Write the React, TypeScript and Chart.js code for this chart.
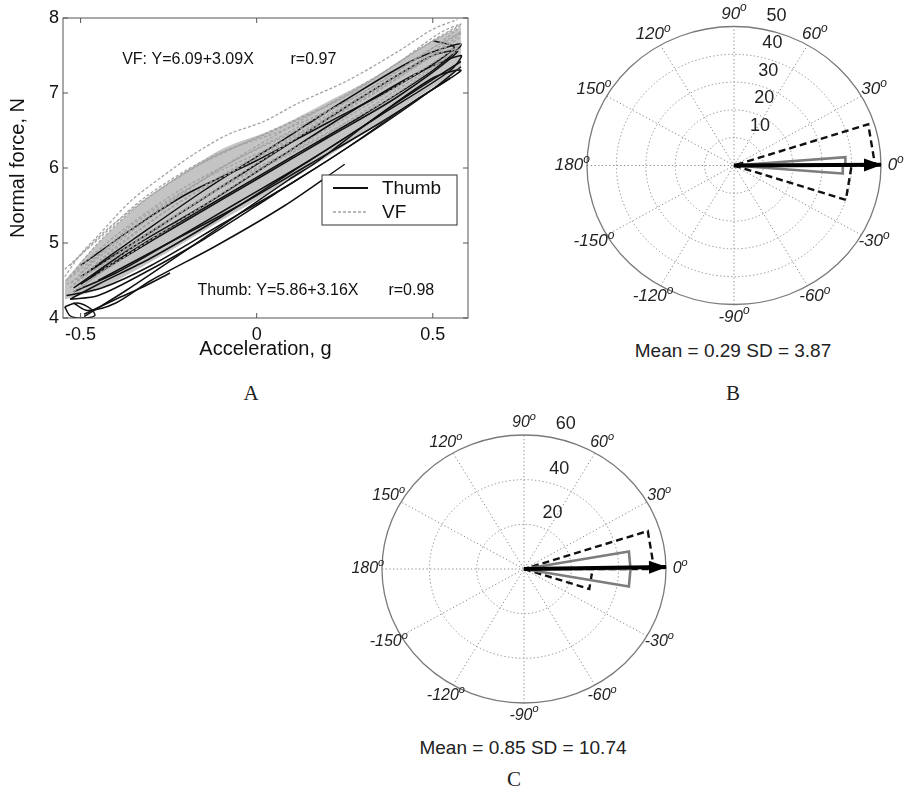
import React, { useEffect, useRef } from "react";
import { Chart, registerables } from "chart.js";

Chart.register(...registerables);

const SANS = "'Liberation Sans', Arial, Helvetica, sans-serif";
const SERIF = "'Liberation Serif', 'Times New Roman', serif";

// ---------------- Panel A data ----------------
const accelTicks = [-0.5, 0, 0.5];
const forceTicks = [4, 5, 6, 7, 8];
const vfFitText = "VF: Y=6.09+3.09X";
const vfRText = "r=0.97";
const thumbFitText = "Thumb: Y=5.86+3.16X";
const thumbRText = "r=0.98";

const thumbTrace1 = [[-0.49, 4.02], [-0.37, 4.37], [-0.18, 4.97], [0.09, 5.84], [0.17, 6.08], [0.36, 6.75], [0.58, 7.42]];
const thumbTrace2 = [[-0.49, 4.05], [-0.4, 4.25], [-0.32, 4.42], [-0.246, 4.6]];
const thumbTrace3 = [[-0.545, 4.15], [-0.53, 4.03], [-0.5, 4.0], [-0.46, 4.03], [-0.47, 4.12], [-0.51, 4.2], [-0.545, 4.15]];
const thumbTrace4 = [[-0.53, 4.25], [-0.45, 4.3], [-0.32, 4.6], [-0.15, 5.05], [0.05, 5.65], [0.25, 6.25], [0.45, 6.9], [0.58, 7.3], [0.5, 7.2], [0.3, 6.55], [0.1, 5.95], [-0.1, 5.35], [-0.3, 4.8], [-0.45, 4.45], [-0.53, 4.25]];
const thumbTrace5 = [[-0.52, 4.35], [-0.4, 4.6], [-0.25, 5.0], [-0.05, 5.55], [0.15, 6.1], [0.35, 6.7], [0.55, 7.3], [0.58, 7.5], [0.45, 7.25], [0.25, 6.7], [0.05, 6.1], [-0.15, 5.5], [-0.35, 4.95], [-0.52, 4.4]];
const thumbTrace6 = [[-0.5, 4.45], [-0.38, 4.8], [-0.2, 5.3], [0, 5.85], [0.2, 6.4], [0.4, 6.95], [0.57, 7.55], [0.5, 7.5], [0.3, 6.95], [0.1, 6.35], [-0.1, 5.75], [-0.3, 5.15], [-0.5, 4.55]];
const thumbTrace7 = [[-0.47, 4.55], [-0.3, 5.05], [-0.1, 5.6], [0.1, 6.15], [0.3, 6.7], [0.5, 7.3], [0.58, 7.65], [0.45, 7.45], [0.25, 6.9], [0.05, 6.3], [-0.15, 5.7], [-0.35, 5.05], [-0.47, 4.65]];
const thumbTrace8 = [[-0.54, 4.3], [-0.44, 4.4], [-0.3, 4.7], [-0.1, 5.25], [0.1, 5.8], [0.3, 6.4], [0.5, 7.05], [0.58, 7.35]];
const thumbTrace9 = [[-0.45, 4.5], [-0.25, 5.0], [-0.05, 5.5], [0.15, 6.05], [0.35, 6.6], [0.55, 7.2]];
const thumbTrace10 = [[-0.52, 4.2], [-0.48, 4.1], [-0.4, 4.2], [-0.3, 4.5], [-0.12, 4.95], [0.08, 5.5], [0.25, 6.05]];
const thumbTrace11 = [[-0.5, 4.7], [-0.35, 5.2], [-0.2, 5.65], [0, 6.1], [0.2, 6.6], [0.4, 7.1], [0.56, 7.6], [0.5, 7.7]];
const thumbTraces = [thumbTrace1, thumbTrace2, thumbTrace3, thumbTrace4, thumbTrace5, thumbTrace6, thumbTrace7, thumbTrace8, thumbTrace9, thumbTrace10, thumbTrace11];

const vfTrace1 = [[-0.545, 4.55], [-0.5, 4.85], [-0.45, 5.1], [-0.36, 5.55], [-0.27, 5.88], [-0.18, 6.18], [-0.08, 6.45], [0.02, 6.62], [0.12, 6.87], [0.26, 7.17], [0.4, 7.55], [0.5, 7.85], [0.57, 7.98]];
const vfTrace2 = [[-0.54, 4.5], [-0.46, 4.95], [-0.35, 5.45], [-0.2, 5.95], [-0.05, 6.3], [0.1, 6.62], [0.25, 6.95], [0.4, 7.4], [0.52, 7.8], [0.58, 7.92], [0.5, 7.7], [0.35, 7.25], [0.15, 6.7], [-0.05, 6.15], [-0.25, 5.55], [-0.42, 4.95], [-0.54, 4.5]];
const vfTrace3 = [[-0.53, 4.4], [-0.42, 4.85], [-0.28, 5.35], [-0.1, 5.9], [0.1, 6.4], [0.3, 6.9], [0.48, 7.45], [0.58, 7.8], [0.5, 7.6], [0.3, 7.0], [0.1, 6.5], [-0.1, 6.0], [-0.3, 5.35], [-0.45, 4.8], [-0.53, 4.45]];
const vfTrace4 = [[-0.52, 4.35], [-0.38, 4.8], [-0.2, 5.35], [0, 5.95], [0.2, 6.45], [0.4, 7.0], [0.57, 7.6], [0.48, 7.45], [0.28, 6.9], [0.08, 6.3], [-0.12, 5.7], [-0.32, 5.1], [-0.52, 4.45]];
const vfTrace5 = [[-0.545, 4.65], [-0.45, 5.05], [-0.32, 5.6], [-0.15, 6.1], [0.05, 6.5], [0.25, 6.95], [0.45, 7.55], [0.58, 7.9]];
const vfTrace6 = [[-0.5, 4.6], [-0.35, 5.25], [-0.15, 5.85], [0.05, 6.3], [0.25, 6.8], [0.45, 7.35], [0.58, 7.75]];
const vfTrace7 = [[-0.53, 4.7], [-0.42, 5.2], [-0.28, 5.7], [-0.1, 6.2], [0.1, 6.55], [0.3, 7.0], [0.5, 7.6], [0.57, 7.85]];
const vfTrace8 = [[-0.51, 4.5], [-0.4, 4.95], [-0.25, 5.45], [-0.05, 6.0], [0.15, 6.5], [0.35, 7.05], [0.55, 7.65]];
const vfTrace9 = [[-0.54, 4.45], [-0.44, 4.7], [-0.3, 5.15], [-0.1, 5.75], [0.1, 6.25], [0.3, 6.8], [0.5, 7.4], [0.58, 7.65]];
const vfTrace10 = [[-0.52, 4.6], [-0.4, 5.1], [-0.22, 5.7], [-0.02, 6.2], [0.2, 6.7], [0.42, 7.3], [0.58, 7.82]];
const vfTrace11 = [[-0.5, 4.4], [-0.35, 4.95], [-0.15, 5.6], [0.05, 6.1], [0.25, 6.6], [0.45, 7.2], [0.58, 7.6]];
const vfTraces = [vfTrace1, vfTrace2, vfTrace3, vfTrace4, vfTrace5, vfTrace6, vfTrace7, vfTrace8, vfTrace9, vfTrace10, vfTrace11];

const vfBandUpper = [[-0.545, 4.5], [-0.45, 5.0], [-0.35, 5.45], [-0.25, 5.8], [-0.1, 6.25], [0.05, 6.52], [0.2, 6.88], [0.35, 7.25], [0.5, 7.7], [0.58, 7.88]];
const vfBandLower = [[-0.545, 4.25], [-0.45, 4.38], [-0.3, 4.75], [-0.1, 5.3], [0.1, 5.85], [0.3, 6.45], [0.45, 6.92], [0.58, 7.32]];

// ---------------- Panels B and C data ----------------
const angleTicks = [0, 30, 60, 90, 120, 150, 180, -150, -120, -90, -60, -30];
const spokeAngles = [0, 30, 60, 90, 120, 150];

const ringsB = [10, 20, 30, 40, 50];
const dashedEdgesB = [-18, 0, 18];
const dashedCountsB = [40, 48];
const grayEdgesB = [-4.5, 0, 4.5];
const grayCountsB = [37, 38];
const meanB = 0.29;
const sdB = 3.87;

const ringsC = [20, 40, 60];
const dashedEdgesC = [-18, 0, 18];
const dashedCountsC = [29, 55];
const grayEdgesC = [-10, 0, 10];
const grayCountsC = [45, 45];
const meanC = 0.85;
const sdC = 10.74;

const toXY = (pts: number[][]) => pts.map(([x, y]) => ({ x, y }));

function rosePoints(edges: number[], counts: number[]) {
  const pts = [{ x: 0, y: 0 }];
  for (let i = 0; i < counts.length; i++) {
    const a1 = (edges[i] * Math.PI) / 180;
    const a2 = (edges[i + 1] * Math.PI) / 180;
    const r = counts[i];
    pts.push({ x: r * Math.cos(a1), y: r * Math.sin(a1) });
    pts.push({ x: r * Math.cos(a2), y: r * Math.sin(a2) });
    pts.push({ x: 0, y: 0 });
  }
  return pts;
}

// ---------------- Panel A plugin ----------------
const panelAPlugin = {
  id: "panelA",
  afterDraw(chart: any) {
    const { ctx, chartArea } = chart;
    const { left, right, top, bottom } = chartArea;
    const xs = chart.scales.x;
    const ys = chart.scales.y;
    ctx.save();
    ctx.strokeStyle = "#555";
    ctx.lineWidth = 1;
    ctx.strokeRect(left, top, right - left, bottom - top);
    ctx.beginPath();
    for (const v of accelTicks) {
      const x = xs.getPixelForValue(v);
      ctx.moveTo(x, bottom);
      ctx.lineTo(x, bottom - 5);
      ctx.moveTo(x, top);
      ctx.lineTo(x, top + 5);
    }
    for (const v of forceTicks) {
      const y = ys.getPixelForValue(v);
      ctx.moveTo(left, y);
      ctx.lineTo(left + 5, y);
      ctx.moveTo(right, y);
      ctx.lineTo(right - 5, y);
    }
    ctx.stroke();

    // regression annotations
    ctx.fillStyle = "#111";
    ctx.font = `16px ${SANS}`;
    ctx.textAlign = "left";
    ctx.textBaseline = "middle";
    ctx.fillText(vfFitText, xs.getPixelForValue(-0.382), ys.getPixelForValue(7.44));
    ctx.fillText(vfRText, xs.getPixelForValue(0.096), ys.getPixelForValue(7.44));
    ctx.fillText(thumbFitText, xs.getPixelForValue(-0.168), ys.getPixelForValue(4.37));
    ctx.fillText(thumbRText, xs.getPixelForValue(0.374), ys.getPixelForValue(4.37));

    // legend box
    const bx = left + 259;
    const by = top + 157;
    const bw = 135;
    const bh = 50;
    ctx.fillStyle = "#fff";
    ctx.fillRect(bx, by, bw, bh);
    ctx.strokeStyle = "#333";
    ctx.lineWidth = 1;
    ctx.strokeRect(bx, by, bw, bh);
    const ds = chart.data.datasets;
    const thumbDs = ds.find((d: any) => d.label === "Thumb");
    const vfDs = ds.find((d: any) => d.label === "VF");
    const entries = [thumbDs, vfDs];
    entries.forEach((d: any, i: number) => {
      const y = by + 13 + i * 24;
      ctx.save();
      ctx.strokeStyle = d.borderColor;
      ctx.lineWidth = d.label === "VF" ? 1.3 : 2;
      ctx.setLineDash(d.borderDash || []);
      ctx.beginPath();
      ctx.moveTo(bx + 11, y);
      ctx.lineTo(bx + 46, y);
      ctx.stroke();
      ctx.restore();
      ctx.fillStyle = "#111";
      ctx.font = `19px ${SANS}`;
      ctx.textAlign = "left";
      ctx.textBaseline = "middle";
      ctx.fillText(d.label, bx + 60, y + 1);
    });
    ctx.restore();
  },
};

// ---------------- Polar plugin ----------------
function makePolarPlugin(rings: number[], angleFont: string, supFont: string) {
  const rMax = rings[rings.length - 1];
  return {
    id: "polarGrid",
    beforeDatasetsDraw(chart: any) {
      const { ctx } = chart;
      const xs = chart.scales.x;
      const ys = chart.scales.y;
      const cx = xs.getPixelForValue(0);
      const cy = ys.getPixelForValue(0);
      const kx = xs.getPixelForValue(1) - cx;
      const ky = cy - ys.getPixelForValue(1);
      ctx.save();
      ctx.strokeStyle = "#8c8c8c";
      ctx.lineWidth = 1;
      ctx.setLineDash([1.3, 2.4]);
      for (const a of spokeAngles) {
        const t = (a * Math.PI) / 180;
        ctx.beginPath();
        ctx.moveTo(cx - rMax * kx * Math.cos(t), cy + rMax * ky * Math.sin(t));
        ctx.lineTo(cx + rMax * kx * Math.cos(t), cy - rMax * ky * Math.sin(t));
        ctx.stroke();
      }
      for (const r of rings.slice(0, -1)) {
        ctx.beginPath();
        ctx.ellipse(cx, cy, r * kx, r * ky, 0, 0, Math.PI * 2);
        ctx.stroke();
      }
      ctx.setLineDash([]);
      ctx.strokeStyle = "#7a7a7a";
      ctx.lineWidth = 1.3;
      ctx.beginPath();
      ctx.ellipse(cx, cy, rMax * kx, rMax * ky, 0, 0, Math.PI * 2);
      ctx.stroke();
      ctx.restore();
    },
    afterDatasetsDraw(chart: any) {
      const { ctx } = chart;
      const xs = chart.scales.x;
      const ys = chart.scales.y;
      const cx = xs.getPixelForValue(0);
      const cy = ys.getPixelForValue(0);
      const kx = xs.getPixelForValue(1) - cx;
      const ky = cy - ys.getPixelForValue(1);
      ctx.save();
      // arrow head on the mean direction dataset
      const idx = chart.data.datasets.findIndex((d: any) => d.label === "Mean");
      if (idx >= 0) {
        const pts = chart.getDatasetMeta(idx).data;
        const p0 = pts[0];
        const p1 = pts[pts.length - 1];
        const ang = Math.atan2(p1.y - p0.y, p1.x - p0.x);
        const L = 17;
        const W = 6.5;
        ctx.fillStyle = "#000";
        ctx.beginPath();
        ctx.moveTo(p1.x + 1, p1.y);
        ctx.lineTo(p1.x - L * Math.cos(ang) + W * Math.sin(ang), p1.y - L * Math.sin(ang) - W * Math.cos(ang));
        ctx.lineTo(p1.x - L * Math.cos(ang) - W * Math.sin(ang), p1.y - L * Math.sin(ang) + W * Math.cos(ang));
        ctx.closePath();
        ctx.fill();
      }
      // angle labels
      ctx.fillStyle = "#222";
      ctx.textBaseline = "middle";
      ctx.textAlign = "left";
      for (const a of angleTicks) {
        const t = (a * Math.PI) / 180;
        const x = cx + 1.1 * rMax * kx * Math.cos(t);
        const y = cy - 1.09 * rMax * ky * Math.sin(t);
        const txt = String(a);
        ctx.font = angleFont;
        const w1 = ctx.measureText(txt).width;
        ctx.font = supFont;
        const w2 = ctx.measureText("o").width;
        const start = x - (w1 + w2) / 2;
        ctx.font = angleFont;
        ctx.fillText(txt, start, y);
        ctx.font = supFont;
        ctx.fillText("o", start + w1, y - 6);
      }
      // radial labels
      ctx.font = `18px ${SANS}`;
      const c82 = Math.cos((82 * Math.PI) / 180);
      const s82 = Math.sin((82 * Math.PI) / 180);
      for (const r of rings) {
        ctx.fillText(String(r), cx + r * kx * c82 + 12, cy - r * ky * s82 - 12);
      }
      ctx.restore();
    },
  };
}

function ChartCanvas({ makeConfig, left, top, width, height }: any) {
  const ref = useRef<HTMLCanvasElement | null>(null);
  useEffect(() => {
    if (!ref.current) return;
    const chart = new Chart(ref.current, makeConfig());
    return () => chart.destroy();
  }, []);
  return (
    <canvas
      ref={ref}
      width={width}
      height={height}
      style={{ position: "absolute", left, top, width, height }}
    />
  );
}

function panelAConfig(): any {
  const datasets: any[] = [];
  // lower "order" is drawn on top: VF traces (1) over Thumb traces (2) over the VF band (3)
  vfTraces.forEach((t, i) => {
    datasets.push({
      label: i === 0 ? "VF" : "VF " + (i + 1),
      data: toXY(t),
      showLine: true,
      borderColor: "#a3a3a3",
      borderWidth: 1.3,
      borderDash: [3, 2],
      pointRadius: 0,
      tension: 0.3,
      fill: false,
      order: 1,
    });
  });
  thumbTraces.forEach((t, i) => {
    datasets.push({
      label: i === 0 ? "Thumb" : "Thumb " + (i + 1),
      data: toXY(t),
      showLine: true,
      borderColor: "#111",
      borderWidth: 1.5,
      pointRadius: 0,
      tension: 0.3,
      fill: false,
      order: 2,
    });
  });
  datasets.push({
    label: "bandUpper",
    data: toXY(vfBandUpper),
    showLine: true,
    borderWidth: 0,
    borderColor: "rgba(0,0,0,0)",
    pointRadius: 0,
    tension: 0.3,
    fill: false,
    order: 3,
  });
  datasets.push({
    label: "bandLower",
    data: toXY(vfBandLower),
    showLine: true,
    borderWidth: 0,
    borderColor: "rgba(0,0,0,0)",
    backgroundColor: "#c4c4c4",
    pointRadius: 0,
    tension: 0.3,
    fill: "-1",
    order: 3,
  });
  return {
    type: "scatter",
    data: { datasets },
    options: {
      animation: false,
      responsive: false,
      maintainAspectRatio: false,
      layout: { padding: { left: 0, top: 18, right: 12, bottom: 0 } },
      plugins: { legend: { display: false }, tooltip: { enabled: false }, filler: { drawTime: "beforeDatasetsDraw" } },
      scales: {
        x: {
          type: "linear",
          min: -0.55,
          max: 0.6,
          afterBuildTicks: (s: any) => {
            s.ticks = accelTicks.map((v) => ({ value: v }));
          },
          afterFit: (s: any) => {
            s.height = 52;
          },
          grid: { display: false, drawTicks: false },
          border: { display: false },
          ticks: {
            padding: 6,
            color: "#111",
            font: { family: SANS, size: 18 },
            callback: (v: any) => String(v),
            maxRotation: 0,
            autoSkip: false,
          },
          title: {
            display: true,
            text: "Acceleration, g",
            color: "#111",
            font: { family: SANS, size: 20 },
            padding: { top: 0, bottom: 9 },
          },
        },
        y: {
          type: "linear",
          min: 4,
          max: 8,
          afterBuildTicks: (s: any) => {
            s.ticks = forceTicks.map((v) => ({ value: v }));
          },
          afterFit: (s: any) => {
            s.width = 63;
          },
          grid: { display: false, drawTicks: false },
          border: { display: false },
          ticks: {
            padding: 4,
            color: "#111",
            font: { family: SANS, size: 18 },
            callback: (v: any) => String(v),
          },
          title: {
            display: true,
            text: "Normal force, N",
            color: "#111",
            font: { family: SANS, size: 20 },
            padding: { top: 6, bottom: 0 },
          },
        },
      },
    },
    plugins: [panelAPlugin],
  };
}

function polarConfig(
  rings: number[],
  dashedEdges: number[],
  dashedCounts: number[],
  grayEdges: number[],
  grayCounts: number[],
  mean: number,
  padding: any,
  angleFont: string,
  supFont: string
): any {
  const rMax = rings[rings.length - 1];
  const m = (mean * Math.PI) / 180;
  return {
    type: "scatter",
    data: {
      datasets: [
        {
          label: "Rose dashed",
          data: rosePoints(dashedEdges, dashedCounts),
          showLine: true,
          borderColor: "#111",
          borderWidth: 2.4,
          borderDash: [7, 4],
          borderJoinStyle: "miter",
          pointRadius: 0,
          fill: false,
          clip: false,
          order: 3,
        },
        {
          label: "Rose gray",
          data: rosePoints(grayEdges, grayCounts),
          showLine: true,
          borderColor: "#7d7d7d",
          borderWidth: 2.6,
          borderJoinStyle: "miter",
          pointRadius: 0,
          fill: false,
          clip: false,
          order: 2,
        },
        {
          label: "Mean",
          data: [
            { x: 0, y: 0 },
            { x: rMax * Math.cos(m), y: rMax * Math.sin(m) },
          ],
          showLine: true,
          borderColor: "#000",
          borderWidth: 4,
          pointRadius: 0,
          fill: false,
          clip: false,
          order: 1,
        },
      ],
    },
    options: {
      animation: false,
      responsive: false,
      maintainAspectRatio: false,
      layout: { padding },
      plugins: { legend: { display: false }, tooltip: { enabled: false } },
      scales: {
        x: { type: "linear", min: -rMax, max: rMax, display: false },
        y: { type: "linear", min: -rMax, max: rMax, display: false },
      },
    },
    plugins: [makePolarPlugin(rings, angleFont, supFont)],
  };
}

function Caption({ x, y, text, font, size }: any) {
  return (
    <div
      style={{
        position: "absolute",
        left: x,
        top: y,
        transform: "translate(-50%, -50%)",
        fontFamily: font,
        fontSize: size,
        lineHeight: 1,
        whiteSpace: "nowrap",
        color: "#222",
      }}
    >
      {text}
    </div>
  );
}

export default function App() {
  return (
    <div
      style={{
        position: "absolute",
        left: 0,
        top: 0,
        width: 905,
        height: 790,
        background: "#fff",
        overflow: "hidden",
      }}
    >
      <ChartCanvas makeConfig={panelAConfig} left={0} top={0} width={480} height={370} />
      <ChartCanvas
        makeConfig={() =>
          polarConfig(
            ringsB,
            dashedEdgesB,
            dashedCountsB,
            grayEdgesB,
            grayCountsB,
            meanB,
            { left: 47, right: 24, top: 26.5, bottom: 25.5 },
            `italic 17px ${SANS}`,
            `italic 12px ${SANS}`
          )
        }
        left={540}
        top={0}
        width={365}
        height={330}
      />
      <ChartCanvas
        makeConfig={() =>
          polarConfig(
            ringsC,
            dashedEdgesC,
            dashedCountsC,
            grayEdgesC,
            grayCountsC,
            meanC,
            { left: 52, right: 54, top: 35, bottom: 27 },
            `italic 16px ${SANS}`,
            `italic 11px ${SANS}`
          )
        }
        left={330}
        top={400}
        width={390}
        height={330}
      />
      <Caption x={733} y={350} text={`Mean = ${meanB} SD = ${sdB}`} font={SANS} size={19} />
      <Caption x={523} y={747} text={`Mean = ${meanC} SD = ${sdC}`} font={SANS} size={19} />
      <Caption x={251} y={393} text="A" font={SERIF} size={21} />
      <Caption x={733} y={393} text="B" font={SERIF} size={21} />
      <Caption x={514} y={779} text="C" font={SERIF} size={21} />
    </div>
  );
}
